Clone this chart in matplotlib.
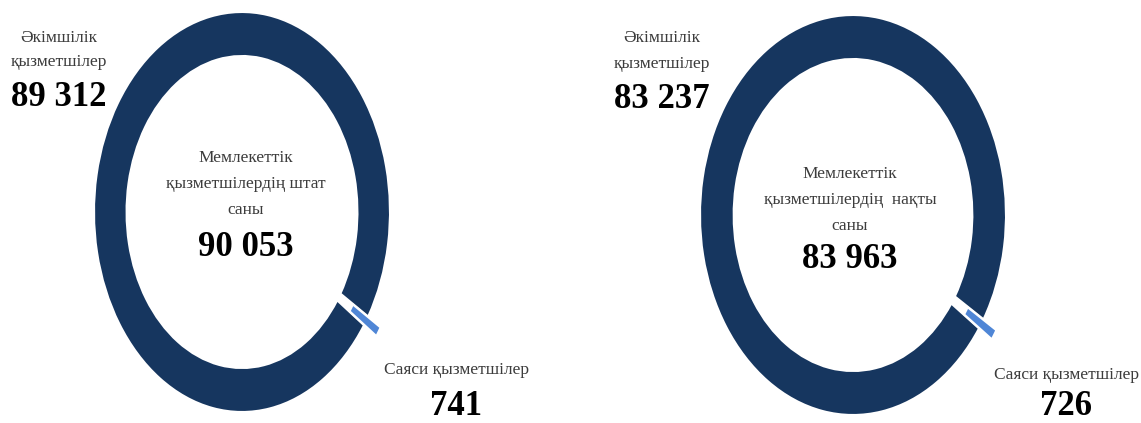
import matplotlib
matplotlib.use("Agg")
import matplotlib.pyplot as plt

# data
admin_staff = [89312, 83237]
political_staff = [741, 726]
totals = [90053, 83963]
center_titles = [
    "Мемлекеттік\nқызметшілердің штат\nсаны",
    "Мемлекеттік\nқызметшілердің  нақты\nсаны",
]
admin_label = "Әкімшілік\nқызметшілер"
political_label = "Саяси қызметшілер"

NAVY = "#16365f"
LIGHT = "#4f86d6"
GREY = "#3c3c3c"
FONT = ["Liberation Serif", "DejaVu Serif"]

W, H = 1141, 423
fig = plt.figure(figsize=(W / 100, H / 100), dpi=100)


def fx(px):
    return px / W


def fy(py):
    return 1 - py / H


def fmt(v):
    return f"{v:,}".replace(",", " ")


def donut(cx, cy, a, b, big, small):
    ax = fig.add_axes([fx(cx - a), fy(cy + b), 2 * a / W, 2 * b / H])
    frac = small / (big + small)
    wedges, _ = ax.pie([big, small], colors=[NAVY, LIGHT], startangle=-33 + 180 * frac,
                       explode=[0, 0.1], radius=1,
                       wedgeprops=dict(width=0.22, edgecolor="white", linewidth=1.5))
    for w in wedges:
        w.set_clip_on(False)
    ax.set_xlim(-1, 1)
    ax.set_ylim(-1, 1)
    ax.set_aspect("auto")
    ax.axis("off")


# layout per panel: ring center/axes, label anchors
panels = [
    dict(ring=(242, 212, 148, 200), admin=(59, 50, 97), center=(246, 184, 248),
         pol=(456, 370, 406)),
    dict(ring=(853, 215, 153, 200), admin=(662, 51, 99), center=(850, 200, 260),
         pol=(1066, 375, 406)),
]

for i, p in enumerate(panels):
    donut(*p["ring"], admin_staff[i], political_staff[i])
    x, ly, ny = p["admin"]
    fig.text(fx(x), fy(ly), admin_label, ha="center", va="center", fontsize=12.5,
             color=GREY, family=FONT, linespacing=1.75)
    fig.text(fx(x), fy(ny), fmt(admin_staff[i]), ha="center", va="center", fontsize=25,
             fontweight="bold", color="black", family=FONT)
    x, ly, ny = p["center"]
    fig.text(fx(x), fy(ly), center_titles[i], ha="center", va="center", fontsize=12.5,
             color=GREY, family=FONT, linespacing=1.85)
    fig.text(fx(x), fy(ny), fmt(totals[i]), ha="center", va="center", fontsize=25,
             fontweight="bold", color="black", family=FONT)
    x, ly, ny = p["pol"]
    fig.text(fx(x), fy(ly), political_label, ha="center", va="center", fontsize=12.5,
             color=GREY, family=FONT)
    fig.text(fx(x), fy(ny), fmt(political_staff[i]), ha="center", va="center", fontsize=25,
             fontweight="bold", color="black", family=FONT)

fig.savefig("out.png", dpi=100)
